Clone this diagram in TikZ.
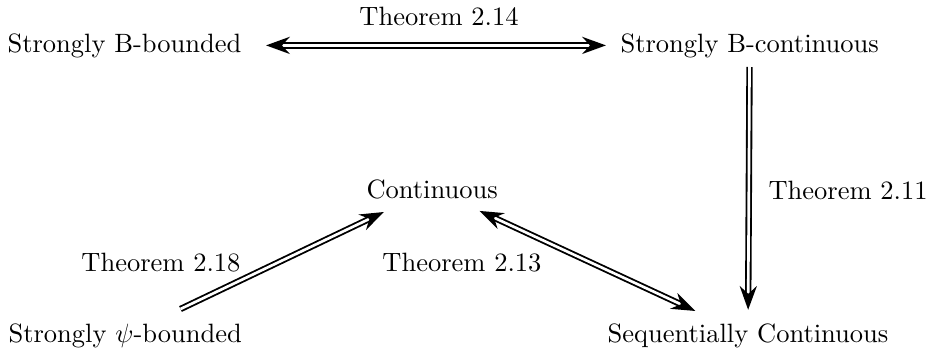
\documentclass[tikz,border=0pt]{standalone}
\usetikzlibrary{arrows.meta}
\begin{document}
\begin{tikzpicture}[x=0.37736pt,y=-0.37736pt,
  lbl/.style={inner sep=0pt, anchor=base},
  dbl/.style={double, line width=0.7pt, double distance=1pt},
  hd/.tip={Stealth[length=9pt,width=6.5pt,inset=3pt]}]
\useasboundingbox (0,0) rectangle (933,352);
\node[lbl, anchor=base west] (sbb) at (7,52) {Strongly B-bounded};
\node[lbl] (t14) at (439,25) {Theorem 2.14};
\node[lbl, anchor=base west] (sbc) at (620,52) {Strongly B-continuous};
\node[lbl, anchor=base west] (cont) at (366,198) {Continuous};
\node[lbl, anchor=base west] (t11) at (768,199) {Theorem 2.11};
\node[lbl, anchor=base east] (t18) at (241,271) {Theorem 2.18};
\node[lbl, anchor=base east] (t13) at (542,271) {Theorem 2.13};
\node[lbl, anchor=base west] (sps) at (8,342) {Strongly $\psi$-bounded};
\node[lbl] (sc) at (748,342) {Sequentially Continuous};
\draw[dbl, hd-hd, shorten <=9.1pt, shorten >=5.3pt] (sbb) -- (sbc);
\draw[dbl, -hd, shorten <=3.4pt, shorten >=4.9pt] (sbc) -- (sc);
\draw[dbl, -hd, shorten <=12.1pt, shorten >=11.3pt] (sps) -- (cont);
\draw[dbl, hd-hd, shorten <=10.6pt, shorten >=10.6pt] (cont) -- (sc);
\end{tikzpicture}
\end{document}
